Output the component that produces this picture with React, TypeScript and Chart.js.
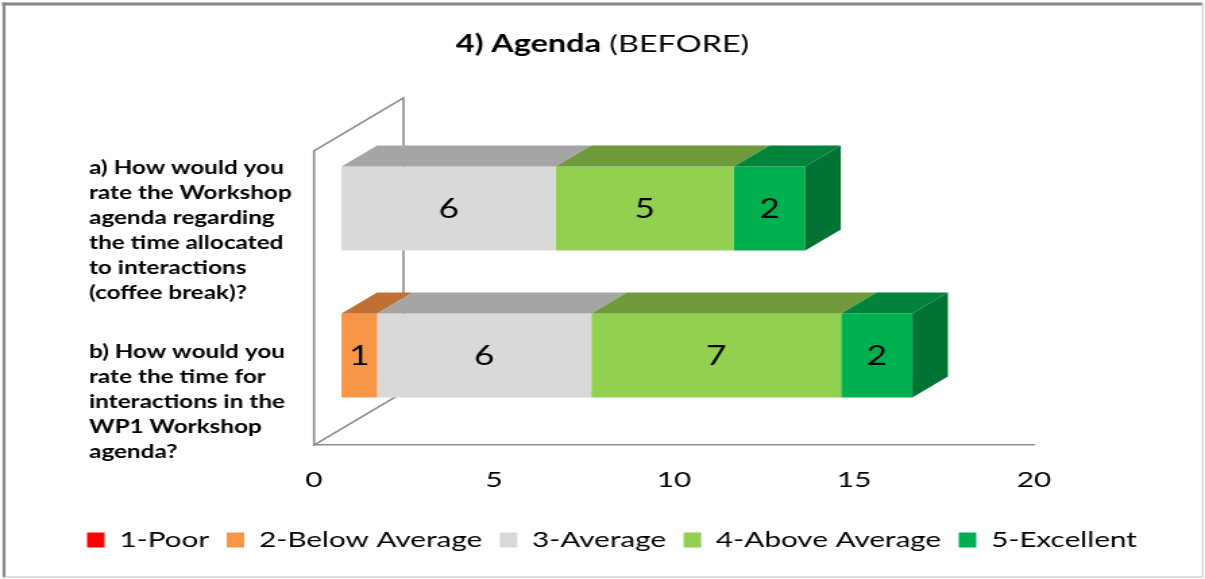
import React, { useEffect, useRef } from 'react';
import { Chart, registerables } from 'chart.js';

Chart.register(...registerables);

// ---------------- data ----------------
const categoryLabels: string[][] = [
  ['a) How would you', 'rate the Workshop', 'agenda regarding', 'the time allocated', 'to interactions', '(coffee break)?'],
  ['b) How would you', 'rate the time for', 'interactions in the', 'WP1 Workshop', 'agenda?'],
];
const seriesNames = ['1-Poor', '2-Below Average', '3-Average', '4-Above Average', '5-Excellent'];
const poor = [0, 0];
const belowAverage = [0, 1];
const average = [6, 6];
const aboveAverage = [5, 7];
const excellent = [2, 2];
const seriesValues = [poor, belowAverage, average, aboveAverage, excellent];
const frontColors = ['#FF0000', '#F79646', '#D9D9D9', '#92D050', '#00B050'];
const topColors = ['#C00000', '#BF7035', '#A5A5A5', '#6F9A3C', '#00843B'];
const sideColors = ['#A00000', '#A05A2A', '#8C8C8C', '#5A8030', '#007232'];
const xMin = 0;
const xMax = 20;
const xStep = 5;
const titleBold = '4) Agenda';
const titleRegular = ' (BEFORE)';
const labelLeadingBlankLines = [0, 2];

// ---------------- geometry / style ----------------
const CANVAS_W = 893;
const CANVAS_H = 579;
const DISPLAY_W = 1205;
const S = DISPLAY_W / CANVAS_W;
const PLOT_LEFT = 232.7;
const PLOT_RIGHT = 766.3;
const LABEL_LEFT = 66;
const WALL_DX = 66.3;
const WALL_DY = -53;
const BAR_OFFX = 20.4;
const BAR_OFFY = -16;
const BAR_K = 0.991;
const BAR_DX = 26.3;
const BAR_DY = -21;
const FONT = 'Lato, "Open Sans", sans-serif';

const excelPlugin = {
  id: 'excel3d',
  afterLayout(chart: any) {
    const lg = chart.legend;
    if (lg) {
      lg.left = 0;
      lg.right = 907;
      lg.width = 907;
    }
  },
  beforeDatasetsDraw(chart: any) {
    const { ctx, chartArea: a } = chart;
    ctx.save();
    ctx.strokeStyle = '#8C8C8C';
    ctx.lineWidth = 1.6;
    ctx.beginPath();
    ctx.moveTo(a.left, a.bottom);
    ctx.lineTo(a.left, a.top);
    ctx.lineTo(a.left + WALL_DX, a.top + WALL_DY);
    ctx.lineTo(a.left + WALL_DX, a.bottom + WALL_DY);
    ctx.closePath();
    ctx.stroke();
    ctx.restore();
    ctx.save();
    ctx.translate(a.left + BAR_OFFX, BAR_OFFY);
    ctx.scale(BAR_K, 1);
    ctx.translate(-a.left, 0);
  },
  afterDatasetsDraw(chart: any) {
    const { ctx, chartArea: a } = chart;
    ctx.restore();
    const tx = (x: number) => a.left + BAR_OFFX + (x - a.left) * BAR_K;
    const nCat = chart.data.labels.length;
    for (let i = 0; i < nCat; i++) {
      const segs: any[] = [];
      chart.data.datasets.forEach((ds: any, di: number) => {
        const v = ds.data[i];
        if (!v) return;
        const el = chart.getDatasetMeta(di).data[i];
        const p = el.getProps(['x', 'base', 'y', 'height'], true);
        const x0 = tx(Math.min(p.x, p.base));
        const x1 = tx(Math.max(p.x, p.base));
        const top = p.y - p.height / 2 + BAR_OFFY;
        const bottom = p.y + p.height / 2 + BAR_OFFY;
        segs.push({ x0, x1, top, bottom, di, v, cy: p.y + BAR_OFFY });
      });
      ctx.save();
      segs.forEach((s) => {
        ctx.fillStyle = topColors[s.di];
        ctx.beginPath();
        ctx.moveTo(s.x0, s.top);
        ctx.lineTo(s.x1, s.top);
        ctx.lineTo(s.x1 + BAR_DX, s.top + BAR_DY);
        ctx.lineTo(s.x0 + BAR_DX, s.top + BAR_DY);
        ctx.closePath();
        ctx.fill();
      });
      if (segs.length) {
        const s = segs[segs.length - 1];
        ctx.fillStyle = sideColors[s.di];
        ctx.beginPath();
        ctx.moveTo(s.x1, s.top);
        ctx.lineTo(s.x1 + BAR_DX, s.top + BAR_DY);
        ctx.lineTo(s.x1 + BAR_DX, s.bottom + BAR_DY);
        ctx.lineTo(s.x1, s.bottom);
        ctx.closePath();
        ctx.fill();
      }
      ctx.fillStyle = '#000';
      ctx.font = `26px ${FONT}`;
      ctx.textAlign = 'center';
      ctx.textBaseline = 'middle';
      segs.forEach((s) => {
        ctx.fillText(String(s.v), (s.x0 + s.x1) / 2, s.cy + 1);
      });
      ctx.restore();
    }
  },
  afterDraw(chart: any) {
    const { ctx } = chart;
    ctx.save();
    // title
    ctx.textBaseline = 'middle';
    ctx.textAlign = 'left';
    ctx.fillStyle = '#000';
    ctx.font = `bold 24px ${FONT}`;
    const wb = ctx.measureText(titleBold).width;
    ctx.font = `24px ${FONT}`;
    const wr = ctx.measureText(titleRegular).width;
    const x0 = 446.5 - (wb + wr) / 2;
    ctx.font = `bold 24px ${FONT}`;
    ctx.fillText(titleBold, x0, 44);
    ctx.font = `24px ${FONT}`;
    ctx.fillText(titleRegular, x0 + wb, 44);
    // frame
    ctx.fillStyle = '#878787';
    ctx.fillRect(2 / S, 2.5, (1202 - 2) / S, 3);
    ctx.fillRect(2.5 / S, 2.5, 3 / S, 575);
    ctx.fillStyle = '#BFBFBF';
    ctx.fillRect(1202 / S, 2.5, 1.2 / S, 575);
    ctx.fillRect(2.5 / S, 576.5, (1202 - 2.5) / S, 1);
    ctx.restore();
  },
};

const padAxis = (position: string, width: number) => ({
  type: 'linear',
  position,
  weight: 10,
  display: true,
  grid: { display: false, drawTicks: false },
  border: { display: false },
  ticks: { display: false },
  afterFit: (s: any) => {
    s.width = width;
  },
});

export default function App() {
  const ref = useRef<HTMLCanvasElement>(null);
  useEffect(() => {
    const canvas = ref.current;
    if (!canvas) return;
    Chart.defaults.font.family = FONT;
    Chart.defaults.color = '#000';
    let alive = true;
    const chart = new Chart(canvas, {
      type: 'bar',
      data: {
        labels: categoryLabels as any,
        datasets: seriesNames.map((name, i) => ({
          label: name,
          data: seriesValues[i],
          backgroundColor: frontColors[i],
          borderWidth: 0,
          barPercentage: 0.57,
          categoryPercentage: 1,
          clip: false as any,
        })),
      },
      options: {
        indexAxis: 'y',
        responsive: false,
        animation: false,
        layout: { padding: { top: 151, left: 0, right: 0, bottom: 18 } },
        scales: {
          x: {
            type: 'linear',
            stacked: true,
            min: xMin,
            max: xMax,
            grid: { display: false, drawTicks: false },
            border: { display: true, color: '#8C8C8C', width: 1.6 },
            ticks: { stepSize: xStep, padding: 21.8, color: '#000', font: { size: 22 } },
            afterFit: (s: any) => {
              s.height = 71;
            },
          } as any,
          y: {
            type: 'category',
            stacked: true,
            weight: 0,
            grid: { display: false, drawTicks: false },
            border: { display: false },
            ticks: {
              autoSkip: false,
              crossAlign: 'far',
              color: '#000',
              labelOffset: 6,
              font: { size: 18, weight: 'bold', lineHeight: '25px' },
              callback: (_v: any, i: number) => {
                const blanks = Array(labelLeadingBlankLines[i] || 0).fill('');
                return [...blanks, ...categoryLabels[i]];
              },
            },
            afterFit: (s: any) => {
              s.width = PLOT_LEFT - LABEL_LEFT;
            },
          } as any,
          padL: padAxis('left', LABEL_LEFT) as any,
          padR: padAxis('right', CANVAS_W - PLOT_RIGHT) as any,
        },
        plugins: {
          legend: {
            position: 'bottom',
            labels: { boxWidth: 13, boxHeight: 15, padding: 13, color: '#000', font: { size: 22 } },
          },
          tooltip: { enabled: false },
          title: { display: false },
        },
      },
      plugins: [excelPlugin],
    });
    if ((document as any).fonts) {
      Promise.all([
        (document as any).fonts.load(`bold 18px Lato`),
        (document as any).fonts.load(`22px Lato`),
      ]).then(() => {
        if (alive) chart.update();
      }).catch(() => {});
    }
    return () => {
      alive = false;
      chart.destroy();
    };
  }, []);
  return (
    <div style={{ position: 'fixed', left: 0, top: 0, width: DISPLAY_W, height: CANVAS_H, background: '#fff' }}>
      <canvas
        ref={ref}
        width={CANVAS_W}
        height={CANVAS_H}
        style={{ width: `${DISPLAY_W}px`, height: `${CANVAS_H}px`, display: 'block' }}
      />
    </div>
  );
}
